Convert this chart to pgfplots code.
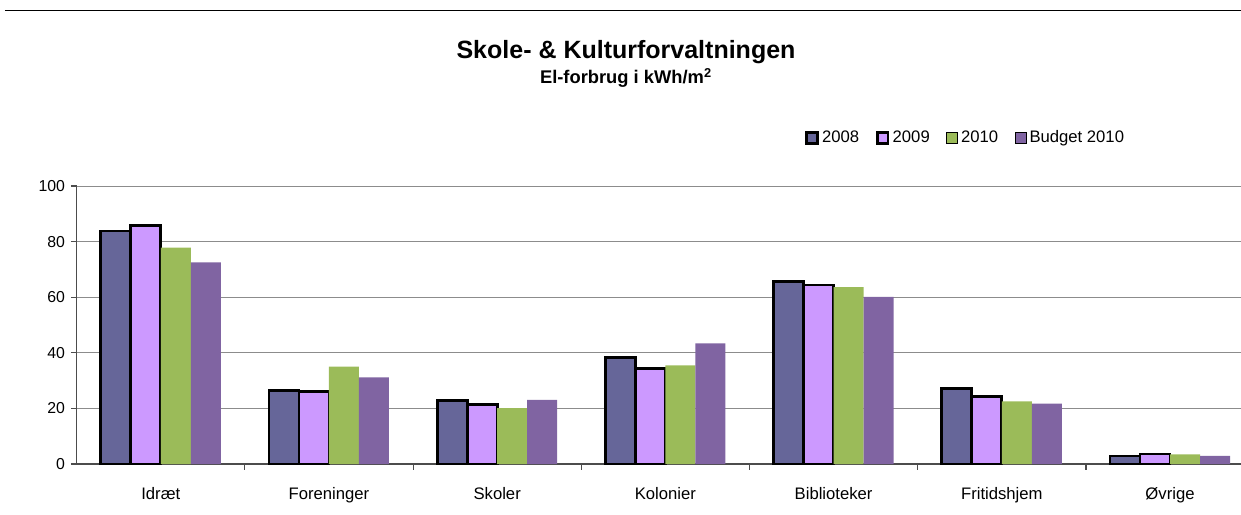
\documentclass[border=0pt]{standalone}
\usepackage{fontspec}
\setmainfont{Liberation Sans}
\setsansfont{Liberation Sans}
\usepackage{pgfplots}
\pgfplotsset{compat=1.18}
\definecolor{c2008}{HTML}{666699}
\definecolor{c2009}{HTML}{CC99FF}
\definecolor{c2010}{HTML}{9BBB59}
\definecolor{cbud}{HTML}{8064A2}
\begin{document}
\begin{tikzpicture}
\path[use as bounding box] (-46pt,-30pt) rectangle (698.6pt,278.4pt);
\draw[black, line width=0.6pt] (-43pt,271.8pt) -- (698.6pt,271.8pt);
\node[font=\fontsize{15}{17}\selectfont\bfseries] at (329.6pt,247.2pt) {Skole- \& Kulturforvaltningen};
\node[font=\fontsize{11}{13}\selectfont\bfseries] at (329.6pt,231.6pt) {El-forbrug i kWh/m\textsuperscript{2}};
\begin{axis}[
  at={(0pt,0pt)}, anchor=south west,
  scale only axis, width=698.6pt, height=166.8pt,
  ybar=0pt, bar width=18pt,
  xmin=-0.5, xmax=6.422, ymin=0, ymax=100,
  axis x line=bottom, axis y line=left,
  axis line style={-, black!70, line width=0.7pt},
  xtick={0,...,6},
  xticklabels={Idræt,Foreninger,Skoler,Kolonier,Biblioteker,Fritidshjem,Øvrige},
  major x tick style={draw=none},
  minor xtick={0.5,1.5,...,5.5},
  minor x tick style={black!70, line width=0.7pt},
  minor tick length=3.5pt,
  x tick label style={yshift=-7pt, font=\fontsize{10}{12}\selectfont},
  ytick={0,20,...,100},
  y tick style={black!70, line width=0.7pt},
  tick align=outside, major tick length=3.5pt,
  y tick label style={font=\fontsize{9.5}{11}\selectfont},
  /pgf/number format/assume math mode=true,
  ymajorgrids, major grid style={black!45, line width=0.6pt},
  legend columns=4,
  legend style={draw=none, fill=none, at={(0.907,1.173)}, anchor=east,
    font=\fontsize{10}{12}\selectfont, /tikz/every even column/.append style={column sep=8pt}},
  legend image code/.code={\draw[#1] (0pt,-3.2pt) rectangle (6.4pt,3.2pt);},
  clip=false
]
\addplot[fill=c2008, draw=black, line width=1.7pt] coordinates {(0,83.8) (1,26.5) (2,22.9) (3,38.4) (4,65.5) (5,27.2) (6,2.9)};
\addlegendentry{2008}
\addplot[fill=c2009, draw=black, line width=1.7pt] coordinates {(0,85.7) (1,26.0) (2,21.3) (3,34.3) (4,64.4) (5,24.2) (6,3.6)};
\addlegendentry{2009}
\addplot[fill=c2010, draw=none] coordinates {(0,77.8) (1,35.0) (2,20.1) (3,35.5) (4,63.6) (5,22.5) (6,3.5)};
\addlegendentry{2010}
\addplot[fill=cbud, draw=none] coordinates {(0,72.5) (1,31.2) (2,23.1) (3,43.4) (4,60.1) (5,21.7) (6,2.9)};
\addlegendentry{Budget 2010}
\end{axis}
\end{tikzpicture}
\end{document}
